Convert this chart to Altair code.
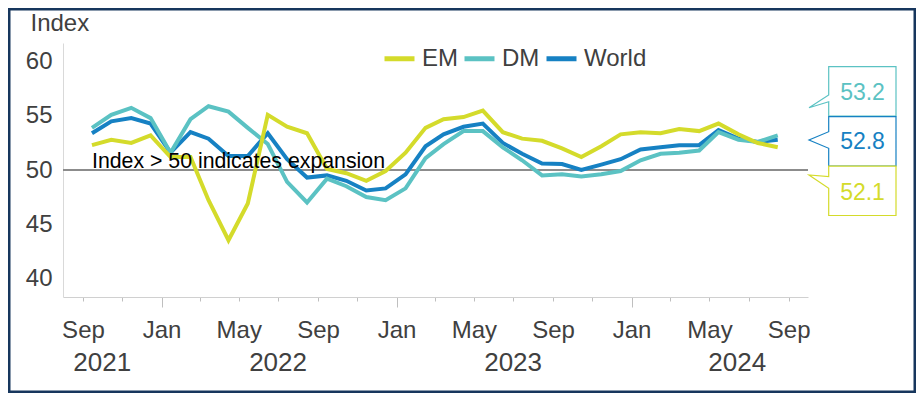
import altair as alt
import pandas as pd

FONT = "Liberation Sans"
TXT = "#404040"

# ---- data ----
start_year, start_month = 2021, 9
n_months = 36
series_names = ["EM", "DM", "World"]
series_colors = ["#d4db2b", "#5bc2c3", "#1681c3"]

em = [52.3, 52.8, 52.5, 53.2, 51.2, 51.2, 47.2, 43.5, 46.9, 55.1, 54.0, 53.4,
      50.1, 49.7, 49.0, 49.9, 51.6, 53.9, 54.7, 54.9, 55.5, 53.5, 52.9, 52.7,
      52.0, 51.2, 52.2, 53.3, 53.5, 53.4, 53.8, 53.6, 54.3, 53.3, 52.5, 52.1]
dm = [53.9, 55.1, 55.75, 54.8, 51.6, 54.7, 55.9, 55.4, 53.9, 52.4, 48.9, 47.0,
      49.2, 48.5, 47.5, 47.2, 48.3, 51.1, 52.4, 53.6, 53.6, 52.1, 50.9, 49.5,
      49.6, 49.4, 49.6, 49.9, 50.9, 51.5, 51.6, 51.8, 53.5, 52.8, 52.6, 53.2]
world = [53.4, 54.5, 54.8, 54.3, 51.6, 53.5, 52.9, 51.3, 51.3, 53.4, 51.0, 49.3,
         49.5, 49.0, 48.1, 48.3, 49.6, 52.2, 53.3, 54.0, 54.3, 52.5, 51.5, 50.6,
         50.55, 50.0, 50.5, 51.0, 51.9, 52.1, 52.3, 52.3, 53.7, 52.9, 52.6, 52.8]

year_labels = ["2021", "2022", "2023", "2024"]
year_label_dates = ["2021-10-01", "2022-07-01", "2023-07-01", "2024-06-13"]

annotation_text = "Index > 50 indicates expansion"
threshold = 50

# ---- tables ----
dates = []
y, m = start_year, start_month
for _ in range(n_months):
    dates.append(pd.Timestamp(year=y, month=m, day=15))
    m += 1
    if m > 12:
        m, y = 1, y + 1

rows = []
for name, vals in zip(series_names, [em, dm, world]):
    for d, v in zip(dates, vals):
        rows.append({"date": d, "series": name, "value": v})
df = pd.DataFrame(rows)

tick_values = []
y, m = 2021, 9
while (y, m) <= (2024, 9):
    tick_values.append(alt.DateTime(year=y, month=m, date=1))
    m += 2
    if m > 12:
        m, y = m - 12, y + 1

color_scale = alt.Scale(domain=series_names, range=series_colors)

W, H = 745, 254
PAD = {"left": 55, "top": 35, "right": 108, "bottom": 96}
Y_DOMAIN = [38.25, 61.75]

x_enc = alt.X(
    "date:T",
    title=None,
    scale=alt.Scale(domain=[alt.DateTime(year=2021, month=8, date=1),
                            alt.DateTime(year=2024, month=10, date=1)]),
    axis=alt.Axis(
        values=tick_values,
        labelExpr="(month(datum.value) % 4 == 0) ? timeFormat(datum.value, '%b') : ''",
        tickSize={"condition": {"test": "month(datum.value) == 0", "value": 10}, "value": 4},
        labelPadding={"condition": {"test": "month(datum.value) == 0", "value": 11}, "value": 17},
        tickColor="#bfbfbf",
        domainColor="#d0d0d0",
        domainWidth=1,
        grid=False,
        labelFontSize=24,
        labelColor=TXT,
        labelOverlap=False,
        labelFlush=False,
    ),
)
y_enc = alt.Y(
    "value:Q",
    scale=alt.Scale(domain=Y_DOMAIN, nice=False, zero=False),
    axis=alt.Axis(
        values=[40, 45, 50, 55, 60],
        ticks=False,
        grid=False,
        domainColor="#d9d9d9",
        labelFontSize=24,
        labelColor=TXT,
        labelPadding=11,
        title="Index",
        titleAngle=0,
        titleAlign="left",
        titleBaseline="alphabetic",
        titleX=-33,
        titleY=-13,
        titleFontSize=24,
        titleFontWeight="normal",
        titleColor=TXT,
    ),
)

legend = alt.Legend(
    title=None, orient="none", legendX=319, legendY=-2, direction="horizontal",
    symbolType="stroke", symbolSize=900, symbolStrokeWidth=5,
    labelFontSize=24, labelColor=TXT, labelOffset=5, columnPadding=-4, padding=0,
)

base = alt.Chart(df)

rule = alt.Chart(pd.DataFrame({"v": [threshold]})).mark_rule(
    color="#8c8c8c", strokeWidth=2
).encode(y=alt.Y("v:Q", scale=alt.Scale(domain=Y_DOMAIN)))

lines = []
for name in ["World", "DM", "EM"]:
    lines.append(
        base.transform_filter(alt.datum.series == name)
        .mark_line(strokeWidth=4)
        .encode(x=x_enc, y=y_enc,
                color=alt.Color("series:N", scale=color_scale, legend=legend))
    )

ann = alt.Chart(pd.DataFrame({"date": [dates[0]], "v": [threshold], "t": [annotation_text]})).mark_text(
    align="left", baseline="alphabetic", dy=-2.5, fontSize=21.3, color="#000000"
).encode(x="date:T", y="v:Q", text="t:N")

years = alt.Chart(pd.DataFrame({"date": pd.to_datetime(year_label_dates), "t": year_labels})).mark_text(
    align="center", baseline="alphabetic", fontSize=26, color=TXT
).encode(x="date:T", y=alt.value(327.5), text="t:N")

# callouts with last values (stacked boxes on the right)
S = 40.0
HW, HH = 33.65, 24.65
callouts = [
    # series, color, value, center y (px from plot top), pointer base y1, y2, tip y, text baseline
    ("DM", series_colors[1], dm[-1], 48.35, 3.65, 10.35, 16.35, 57.0),
    ("World", series_colors[2], world[-1], 98.35, -9.65, 6.95, -1.35, 106.3),
    ("EM", series_colors[0], em[-1], 147.85, -14.15, -2.55, -15.85, 157.0),
]
TIP_X = -53.35
CX = 799.35

def f(v):
    return f"{v / S:.4f}"

callout_layers = []
for name, col, val, cy, b1, b2, ty, tyb in callouts:
    path = (f"M{f(-HW)},{f(-HH)}L{f(HW)},{f(-HH)}L{f(HW)},{f(HH)}L{f(-HW)},{f(HH)}"
            f"L{f(-HW)},{f(b2)}L{f(TIP_X)},{f(ty)}L{f(-HW)},{f(b1)}Z")
    cdf = pd.DataFrame({"series": [name], "label": [f"{val:.1f}"]})
    box = alt.Chart(cdf).mark_point(
        shape=path, size=(2 * S) ** 2, filled=True, fill="white", fillOpacity=1,
        stroke=col, strokeWidth=1.2, opacity=1
    ).encode(x=alt.value(CX), y=alt.value(cy))
    txt = alt.Chart(cdf).mark_text(
        align="center", baseline="alphabetic", fontSize=23, color=col
    ).encode(x=alt.value(CX + 0.15), y=alt.value(tyb), text="label:N")
    callout_layers += [box, txt]

# outer frame of the figure
frame = alt.Chart(pd.DataFrame({"a": [0]})).mark_rect(
    filled=False, stroke="#17365d", strokeWidth=2.5
).encode(x=alt.value(-53.75), x2=alt.value(851.75), y=alt.value(-33.75), y2=alt.value(348.75))

chart = alt.layer(rule, *lines, ann, years, *callout_layers, frame).properties(
    width=W, height=H, padding=PAD,
    autosize=alt.AutoSizeParams(type="none"),
    background="white",
).configure(font=FONT).configure_view(strokeWidth=0)

chart.save("out.html", embed_options={"renderer": "svg", "actions": False})
